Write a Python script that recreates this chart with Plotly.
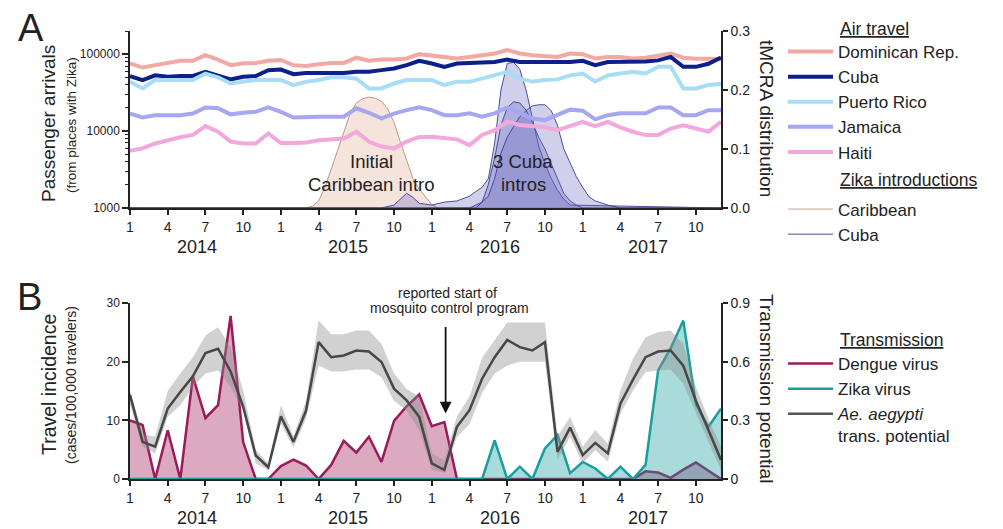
import plotly.graph_objects as go

# ---------------- data ----------------
months = list(range(48))  # Jan 2014 .. Dec 2017 (month index)
tick_months = [0, 3, 6, 9, 12, 15, 18, 21, 24, 27, 30, 33, 36, 39, 42, 45]
tick_labels = ["1", "4", "7", "10"] * 4
years = ["2014", "2015", "2016", "2017"]
year_pos = [5.3, 17.3, 29.4, 41.2]

dominican = [75700, 67000, 72000, 77000, 82000, 82000, 97000, 85000, 72000, 76000, 77000, 82000,
             84000, 72000, 70000, 74000, 77000, 77000, 90000, 82000, 85000, 85000, 88000, 100000,
             95000, 90000, 88000, 92000, 97000, 102000, 113000, 102000, 97000, 94000, 92000, 102000,
             100000, 88000, 92000, 92000, 88000, 90000, 95000, 102000, 90000, 87000, 87000, 86000]
cuba = [51800, 45900, 53000, 50800, 52000, 52000, 59000, 53000, 46900, 50800, 52000, 62000,
        63000, 55000, 57000, 57000, 57000, 57000, 59000, 59000, 62000, 65000, 72000, 82000,
        75700, 68400, 75700, 77000, 79000, 79000, 85000, 79000, 79000, 79000, 79000, 79000,
        82000, 72000, 79000, 79000, 78000, 80000, 83000, 92000, 68400, 68400, 75000, 90600]
puerto_rico = [43700, 35900, 46000, 46000, 46000, 46000, 56000, 50000, 41600, 43700, 46000, 46000,
               46000, 39600, 43700, 46000, 50000, 50000, 48000, 35900, 35900, 41600, 46000, 46000,
               46000, 39700, 43700, 43700, 48000, 53000, 59000, 48000, 44000, 46000, 47000, 53000,
               56000, 44000, 53000, 56000, 59000, 56000, 68400, 68400, 35900, 35900, 39700, 41000]
jamaica = [16900, 15000, 16100, 16100, 16100, 16900, 20300, 19800, 16500, 17300, 17800, 20300,
           17800, 15000, 15400, 15400, 15400, 15400, 19800, 17300, 14600, 16900, 18700, 20300,
           18700, 16100, 16100, 17000, 15400, 17000, 20300, 17300, 14600, 13900, 16000, 19000,
           18400, 14200, 16100, 17000, 17000, 17000, 20300, 20300, 16100, 16100, 18700, 18700]
haiti = [5560, 5960, 6900, 7600, 8300, 8900, 11600, 9800, 7300, 6900, 6900, 9300,
         7000, 7000, 7100, 7600, 7700, 8000, 9800, 7300, 6300, 5960, 7300, 8400,
         8450, 8000, 7800, 6580, 8900, 10300, 13200, 12000, 11600, 11200, 10300, 11600,
         13200, 11600, 13200, 11200, 9800, 8870, 8870, 10800, 11900, 10800, 9800, 13200]

carib_x = [0, 14, 14.5, 15, 15.5, 16, 16.5, 17, 17.5, 18, 18.5, 19, 19.5, 20, 20.5, 21, 21.5,
           22, 22.5, 23, 23.5, 24, 24.5, 47]
carib_y = [0, 0, 0.003, 0.012, 0.035, 0.065, 0.095, 0.128, 0.16, 0.178, 0.185, 0.188, 0.186,
           0.181, 0.168, 0.145, 0.112, 0.08, 0.05, 0.032, 0.018, 0.006, 0, 0]
cuba1_x = [0, 20, 21, 21.5, 22, 22.5, 23, 24, 25, 26, 27, 27.5, 28, 28.5, 29, 29.5, 30, 30.5,
           31, 31.5, 32, 32.5, 33, 33.5, 34, 34.5, 35, 47]
cuba1_y = [0, 0, 0.005, 0.015, 0.025, 0.018, 0.008, 0.005, 0.01, 0.012, 0.02, 0.028, 0.035,
           0.05, 0.11, 0.2, 0.245, 0.247, 0.235, 0.2, 0.15, 0.105, 0.075, 0.05, 0.03, 0.015,
           0.005, 0]
cuba2_x = [0, 27, 28, 28.5, 29, 29.5, 30, 30.5, 31, 31.5, 32, 32.5, 33, 33.5, 34, 34.5, 35,
           35.5, 36, 47]
cuba2_y = [0, 0, 0.01, 0.04, 0.085, 0.14, 0.17, 0.18, 0.178, 0.166, 0.145, 0.12, 0.1, 0.075,
           0.05, 0.025, 0.012, 0.005, 0, 0]
cuba3_x = [0, 27.5, 28.5, 29, 29.5, 30, 30.5, 31, 31.5, 32, 32.5, 33, 33.5, 34, 34.5, 35, 35.5,
           36, 36.5, 37, 38, 39, 47]
cuba3_y = [0, 0, 0.02, 0.05, 0.093, 0.12, 0.138, 0.155, 0.165, 0.173, 0.175, 0.175, 0.165,
           0.14, 0.1, 0.075, 0.053, 0.035, 0.019, 0.012, 0.005, 0, 0]

dengue = [10.0, 9.2, 0, 8.3, 0, 17.5, 10.4, 12.6, 27.8, 6.3, 0, 0,
          2.2, 3.3, 2.3, 0, 2.4, 6.5, 4.5, 7.2, 2.9, 9.9, 12.4, 14.4,
          9.0, 9.7, 0, 0, 0, 0, 0, 0, 0, 0, 0, 0,
          0, 0, 0, 0, 0, 1.3, 1.1, 0.2, 1.6, 2.8, 1.4, 0]
zika = [0] * 29 + [6.6, 0, 2.1, 0, 5.2, 7.5, 1.0, 2.9, 1.8, 0, 2.1, 0, 2.4,
                   18.5, 22.3, 27.0, 12.8, 8.9, 12.0]
aegypti = [0.43, 0.19, 0.165, 0.36, 0.445, 0.525, 0.644, 0.666, 0.55, 0.37, 0.12, 0.06,
           0.32, 0.19, 0.35, 0.70, 0.623, 0.632, 0.657, 0.652, 0.598, 0.462, 0.402, 0.318,
           0.08, 0.046, 0.267, 0.352, 0.513, 0.623, 0.711, 0.674, 0.657, 0.70, 0.139, 0.263,
           0.122, 0.185, 0.131, 0.385, 0.508, 0.623, 0.652, 0.657, 0.58, 0.40, 0.25, 0.097]
aegypti_hi = [0.453, 0.23, 0.216, 0.45, 0.54, 0.623, 0.734, 0.776, 0.674, 0.453, 0.15, 0.08,
              0.377, 0.22, 0.40, 0.81, 0.74, 0.74, 0.76, 0.76, 0.69, 0.54, 0.46, 0.42,
              0.13, 0.097, 0.32, 0.42, 0.62, 0.71, 0.80, 0.80, 0.80, 0.80, 0.216, 0.318,
              0.165, 0.25, 0.18, 0.453, 0.615, 0.725, 0.75, 0.76, 0.69, 0.47, 0.31, 0.165]
aegypti_lo = [0.377, 0.165, 0.13, 0.318, 0.377, 0.47, 0.54, 0.555, 0.47, 0.35, 0.08, 0.045,
              0.284, 0.16, 0.31, 0.58, 0.55, 0.55, 0.56, 0.56, 0.52, 0.40, 0.35, 0.25,
              0.046, 0.032, 0.215, 0.28, 0.44, 0.54, 0.58, 0.60, 0.60, 0.60, 0.097, 0.216,
              0.08, 0.148, 0.088, 0.335, 0.453, 0.547, 0.555, 0.56, 0.487, 0.335, 0.19, 0.046]

# ---------------- layout geometry (page pixels; page body has an 8px margin) ----------------
FONT = "Liberation Sans, Arial, sans-serif"
OFF = 8
FW, FH = 1003 - OFF, 529 - OFF

def px(x):
    return (x - OFF) / FW

def py(y):
    return (FH - (y - OFF)) / FH

XDOM = [px(130), px(721)]
A_DOM = [py(208), py(31)]
B_DOM = [py(479), py(303)]

fig = go.Figure()

# --- Panel A: Zika introduction distributions (right axis, base layer)
fig.add_trace(go.Scatter(x=carib_x, y=carib_y, xaxis="x", yaxis="y", mode="lines",
                         line=dict(color="rgba(185,140,125,0.9)", width=1),
                         fill="tozeroy", fillcolor="rgba(235,205,190,0.55)",
                         showlegend=False, hoverinfo="skip"))
for cx, cy in [(cuba1_x, cuba1_y), (cuba2_x, cuba2_y), (cuba3_x, cuba3_y)]:
    fig.add_trace(go.Scatter(x=cx, y=cy, xaxis="x", yaxis="y", mode="lines",
                             line=dict(color="rgba(60,60,150,0.9)", width=1),
                             fill="tozeroy", fillcolor="rgba(100,100,190,0.3)",
                             showlegend=False, hoverinfo="skip"))

# --- Panel A: air travel (left log axis, overlay)
air = [("Dominican Rep.", dominican, "#f4a8a4", 4),
       ("Cuba", cuba, "#0c1f8a", 4),
       ("Puerto Rico", puerto_rico, "#a8def4", 4),
       ("Jamaica", jamaica, "#a6a6f2", 4),
       ("Haiti", haiti, "#f3a8dc", 4)]
for name, vals, col, w in air:
    fig.add_trace(go.Scatter(x=months, y=vals, xaxis="x", yaxis="y2", mode="lines",
                             name=name, line=dict(color=col, width=w),
                             legend="legend", legendgroup="air"))
# legend entries for introductions
fig.add_trace(go.Scatter(x=[None], y=[None], xaxis="x", yaxis="y2", mode="lines",
                         name="Caribbean", line=dict(color="rgba(200,160,150,1)", width=1),
                         legend="legend", legendgroup="zika"))
fig.add_trace(go.Scatter(x=[None], y=[None], xaxis="x", yaxis="y2", mode="lines",
                         name="Cuba", line=dict(color="rgba(80,80,160,1)", width=1),
                         legend="legend", legendgroup="zika"))

# --- Panel B: travel incidence (left axis, base layer)
fig.add_trace(go.Scatter(x=months, y=dengue, xaxis="x2", yaxis="y3", mode="lines",
                         line=dict(color="#9b1b5a", width=2.5),
                         fill="tozeroy", fillcolor="rgba(160,30,90,0.38)",
                         showlegend=False))
fig.add_trace(go.Scatter(x=months, y=zika, xaxis="x2", yaxis="y3", mode="lines",
                         line=dict(color="#1a9e9e", width=2.5),
                         fill="tozeroy", fillcolor="rgba(30,160,160,0.38)",
                         showlegend=False))
# --- Panel B: transmission potential (right axis, overlay)
fig.add_trace(go.Scatter(x=months, y=aegypti_lo, xaxis="x2", yaxis="y4", mode="lines",
                         line=dict(width=0, color="rgba(0,0,0,0)"), showlegend=False,
                         hoverinfo="skip"))
fig.add_trace(go.Scatter(x=months, y=aegypti_hi, xaxis="x2", yaxis="y4", mode="lines",
                         line=dict(width=0, color="rgba(0,0,0,0)"), fill="tonexty",
                         fillcolor="rgba(140,140,140,0.4)", showlegend=False,
                         hoverinfo="skip"))
fig.add_trace(go.Scatter(x=months, y=aegypti, xaxis="x2", yaxis="y4", mode="lines",
                         line=dict(color="#474747", width=2.5), showlegend=False))
# legend entries for panel B
for name, col in [("Dengue virus", "#9b1b5a"), ("Zika virus", "#1a9e9e"),
                  ("<i>Ae. aegypti</i><br>trans. potential", "#555555")]:
    fig.add_trace(go.Scatter(x=[None], y=[None], xaxis="x2", yaxis="y3", mode="lines",
                             name=name, line=dict(color=col, width=2.5),
                             legend="legend2"))

axis_common = dict(showline=True, linecolor="#222", linewidth=1.5, ticks="outside",
                   tickcolor="#222", tickwidth=1.5, ticklen=6, showgrid=False, zeroline=False,
                   automargin=False,
                   tickfont=dict(family=FONT, size=12, color="#222"))
xaxis_common = dict(axis_common, range=[0, 47], tickmode="array", tickvals=tick_months,
                    ticktext=tick_labels, tickfont=dict(family=FONT, size=14, color="#222"),
                    domain=XDOM, ticklen=5)

minor_log = [v * 10 ** e for e in (3, 4) for v in range(2, 10)] + [200000]

fig.update_layout(
    template="none",
    width=FW, height=FH, margin=dict(l=0, r=0, t=0, b=0, pad=0, autoexpand=False),
    paper_bgcolor="white", plot_bgcolor="rgba(0,0,0,0)",
    font=dict(family=FONT, color="#222"),
    xaxis=dict(xaxis_common, anchor="y"),
    yaxis=dict(axis_common, domain=A_DOM, anchor="x", side="right", range=[0, 0.3],
               tickvals=[0, 0.1, 0.2, 0.3], ticktext=["0.0", "0.1", "0.2", "0.3"],
               tickfont=dict(family=FONT, size=14, color="#222"), ticklen=5),
    yaxis2=dict(axis_common, overlaying="y", side="left", anchor="x", type="log",
                range=[3, 5.30103], tickvals=[1000, 10000, 100000],
                ticktext=["1000", "10000", "100000"],
                minor=dict(tickvals=minor_log, ticks="outside", ticklen=3, tickcolor="#222",
                           tickwidth=1)),
    xaxis2=dict(xaxis_common, anchor="y3"),
    yaxis3=dict(axis_common, domain=B_DOM, anchor="x2", side="left", range=[0, 30],
                tickvals=[0, 10, 20, 30]),
    yaxis4=dict(axis_common, overlaying="y3", side="right", anchor="x2", range=[0, 0.9],
                tickvals=[0, 0.3, 0.6, 0.9], ticktext=["0", "0.3", "0.6", "0.9"],
                tickfont=dict(family=FONT, size=14, color="#222"), ticklen=5),
    legend=dict(x=px(783), y=py(34), xanchor="left", yanchor="top",
                font=dict(family=FONT, size=17, color="#222"), bgcolor="rgba(0,0,0,0)",
                traceorder="grouped", tracegroupgap=32, itemwidth=45),
    legend2=dict(x=px(783), y=py(346), xanchor="left", yanchor="top",
                 font=dict(family=FONT, size=17, color="#222"), bgcolor="rgba(0,0,0,0)",
                 valign="top", itemwidth=45),
)

ann = []
def txt(x, y, s, size, **kw):
    d = dict(x=px(x), y=py(y), xref="paper", yref="paper", text=s, showarrow=False,
             font=dict(family=FONT, size=size, color="#222"), xanchor="center",
             yanchor="middle")
    d.update(kw)
    ann.append(d)

txt(31, 28, "A", 38)
txt(29, 297, "B", 38)
txt(49, 124, "Passenger arrivals", 19, textangle=-90)
txt(71, 125, "(from places with Zika)", 13.5, textangle=-90)
txt(766, 118, "tMCRA distribution", 19, textangle=90)
txt(49, 385, "Travel incidence", 19.5, textangle=-90)
txt(71, 385, "(cases/100,000 travelers)", 14, textangle=-90)
txt(767, 388, "Transmission potential", 19, textangle=90)
txt(371, 161, "Initial", 18.5)
txt(371, 184, "Caribbean intro", 18.5)
txt(523, 161, "3 Cuba", 18.5)
txt(523, 184, "intros", 18.5)
txt(447, 293, "reported start of", 14)
txt(449, 308, "mosquito control program", 14)
txt(838, 29, "<u>Air travel</u>", 17.5, xanchor="left")
txt(838, 180, "<u>Zika introductions</u>", 17.5, xanchor="left")
txt(838, 340, "<u>Transmission</u>", 17.5, xanchor="left")
for yl, xm in zip(years, year_pos):
    ann.append(dict(x=xm, y=py(247), xref="x", yref="paper", text=yl, showarrow=False,
                    font=dict(family=FONT, size=18, color="#222"), yanchor="middle",
                    borderpad=0))
    ann.append(dict(x=xm, y=py(528.5), xref="x2", yref="paper", text=yl, showarrow=False,
                    font=dict(family=FONT, size=18, color="#222"), yanchor="bottom",
                    borderpad=0))
# arrow for mosquito control program
ann.append(dict(x=25.1, y=0.335, xref="x2", yref="y4", ax=0, ay=-88, text="",
                showarrow=True, arrowhead=2, arrowsize=1.3, arrowwidth=1.8,
                arrowcolor="#111"))
fig.update_layout(annotations=ann)

fig.write_html("out.html")
